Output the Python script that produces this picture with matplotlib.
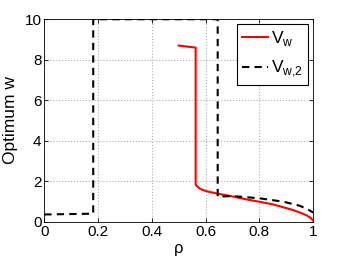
import matplotlib.pyplot as plt
import numpy as np

plt.rcParams['font.family'] = ['Liberation Sans', 'DejaVu Sans']
plt.rcParams['mathtext.fontset'] = 'custom'
plt.rcParams['mathtext.rm'] = 'Liberation Sans'

# V_w (red, solid)
rho_vw = [0.50, 0.563, 0.563, 0.566, 0.58, 0.60, 0.64, 0.70, 0.765, 0.80, 0.85, 0.888, 0.92, 0.95, 0.975, 0.99, 1.0]
vw = [8.70, 8.60, 1.85, 1.78, 1.62, 1.52, 1.40, 1.25, 1.07, 0.99, 0.86, 0.72, 0.60, 0.46, 0.32, 0.20, 0.06]

# V_w,2 (black, dashed)
rho_vw2 = [0.0, 0.182, 0.182, 0.645, 0.645, 0.70, 0.80, 0.89, 0.95, 0.98, 1.0]
vw2 = [0.36, 0.40, 10.0, 10.0, 1.24, 1.27, 1.16, 0.99, 0.79, 0.62, 0.45]

fig = plt.figure(figsize=(3.46, 2.6), dpi=100)
ax = fig.add_axes([0.128, 0.147, 0.777, 0.779])

ax.plot(rho_vw, vw, '-', color='red', linewidth=1.5, label=r'V$_\mathregular{w}$')
ax.plot(rho_vw2, vw2, '--', color='black', linewidth=1.5, label=r'V$_\mathregular{w{,}2}$',
        dashes=(3.5, 2.5))

ax.set_xlim(0, 1)
ax.set_ylim(0, 10)
ax.set_xticks([0, 0.2, 0.4, 0.6, 0.8, 1.0])
ax.set_xticklabels(['0', '0.2', '0.4', '0.6', '0.8', '1'])
ax.set_yticks([0, 2, 4, 6, 8, 10])
ax.tick_params(direction='in', labelsize=11, length=3, width=0.6, top=True, right=True, pad=2)
for s in ax.spines.values():
    s.set_linewidth(0.6)
ax.grid(True, linestyle=':', color='#b0b0b0', linewidth=0.8)
ax.set_xlabel('ρ', fontsize=12, labelpad=2)
ax.set_ylabel('Optimum w', fontsize=12.5, labelpad=5)

leg = ax.legend(loc='upper right', fontsize=12.5, fancybox=False, framealpha=1,
                edgecolor='black', handlelength=1.45, handletextpad=0.2,
                borderpad=0.3, labelspacing=0.6, borderaxespad=0.28)
leg.get_frame().set_linewidth(0.8)

fig.savefig('out.png', dpi=100)
